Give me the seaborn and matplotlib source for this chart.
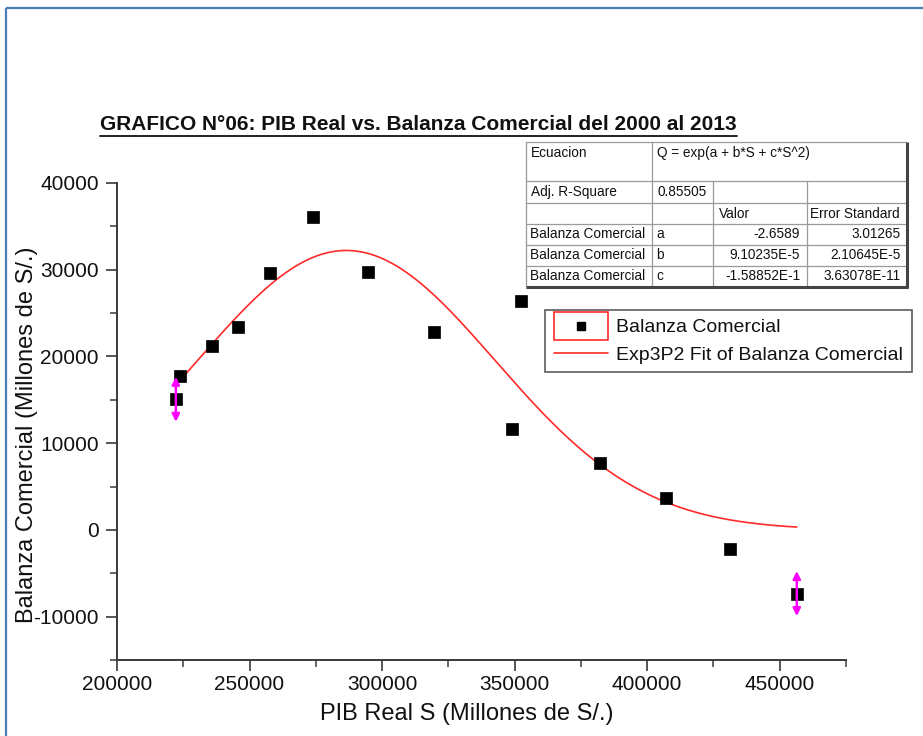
import numpy as np
import pandas as pd
import matplotlib
matplotlib.use("Agg")
import matplotlib.pyplot as plt
import seaborn as sns
from matplotlib.ticker import MultipleLocator, FuncFormatter
from matplotlib.legend_handler import HandlerBase
from matplotlib.patches import Rectangle
from matplotlib.lines import Line2D

# ---- data -------------------------------------------------------------
anios = list(range(2000, 2014))
pib_real = [222207, 223580, 235773, 245593, 257770, 273971, 294598,
            319693, 348923, 352584, 382380, 407052, 431273, 456435]
balanza = [15060, 17710, 21210, 23410, 29570, 36110, 29690,
           22830, 11670, 26410, 7700, 3630, -2150, -7340]

# Exp3P2 fit: Q = exp(a + b*S + c*S^2)
param_nombres = ["a", "b", "c"]
param_valor = [-2.6589, 9.10235e-5, -1.58852e-10]
param_valor_txt = ["-2.6589", "9.10235E-5", "-1.58852E-1"]
param_error_txt = ["3.01265", "2.10645E-5", "3.63078E-11"]
adj_r2_txt = "0.85505"
ecuacion_txt = "Q = exp(a + b*S + c*S^2)"

# years flagged with a vertical double arrow
anios_marcados = [2000, 2013]

titulo = "GRAFICO N\u00b006: PIB Real vs. Balanza Comercial del 2000 al 2013"
etiqueta_x = "PIB Real S (Millones de S/.)"
etiqueta_y = "Balanza Comercial (Millones de S/.)"
serie = "Balanza Comercial"
serie_ajuste = "Exp3P2 Fit of Balanza Comercial"

# ---- style ------------------------------------------------------------
sns.set_style("ticks")
plt.rcParams["font.family"] = ["Liberation Sans", "DejaVu Sans"]
plt.rcParams["text.color"] = "#111111"

W, H = 923, 736
fig = plt.figure(figsize=(W / 100, H / 100), dpi=100)
fig.patch.set_facecolor("white")

# main axes placed in pixel units
L, R, T, B = 117, 846, 183, 660
ax = fig.add_axes([L / W, 1 - B / H, (R - L) / W, (B - T) / H])

df = pd.DataFrame({"anio": anios, "pib": pib_real, "balanza": balanza})

# fitted curve from the tabulated parameters
a, b, c = param_valor
s_grid = np.linspace(min(pib_real), max(pib_real), 300)
q_fit = np.exp(a + b * s_grid + c * s_grid ** 2)
sns.lineplot(x=s_grid, y=q_fit, color="#ff2a2a", lw=1.2, ax=ax, zorder=2)

sns.scatterplot(data=df, x="pib", y="balanza", marker="s", s=70,
                color="black", edgecolor="black", linewidth=0.5,
                ax=ax, zorder=3, legend=False)

# vertical double arrows on flagged points
for yr in anios_marcados:
    row = df[df["anio"] == yr].iloc[0]
    ax.annotate("", xy=(row["pib"], row["balanza"] + 2600),
                xytext=(row["pib"], row["balanza"] - 2600),
                arrowprops=dict(arrowstyle="<|-|>", color="#ff00ff",
                                lw=1.8, mutation_scale=11,
                                shrinkA=0, shrinkB=0),
                zorder=4)

ax.set_xlim(200000, 475000)
ax.set_ylim(-15000, 40000)
ax.xaxis.set_major_locator(MultipleLocator(50000))
ax.xaxis.set_minor_locator(MultipleLocator(25000))
ax.yaxis.set_major_locator(MultipleLocator(10000))
ax.yaxis.set_minor_locator(MultipleLocator(5000))
fmt = FuncFormatter(lambda v, _: f"{v:.0f}")
ax.xaxis.set_major_formatter(fmt)
ax.yaxis.set_major_formatter(fmt)

for side in ("top", "right"):
    ax.spines[side].set_visible(False)
for side in ("left", "bottom"):
    ax.spines[side].set_color("#3a3a3a")
    ax.spines[side].set_linewidth(1.4)

ax.tick_params(which="major", direction="out", length=8, width=1.2,
               color="#3a3a3a", labelsize=15, labelcolor="#111111")
ax.tick_params(axis="x", which="major", pad=3)
ax.tick_params(axis="y", which="major", pad=5)
ax.tick_params(which="minor", direction="out", length=5, width=1.1,
               color="#3a3a3a")

ax.set_xlabel(etiqueta_x, fontsize=17, color="#111111")
ax.set_ylabel(etiqueta_y, fontsize=17, color="#111111")
ax.xaxis.set_label_coords((466.5 - L) / (R - L), (B - 703) / (B - T))
ax.yaxis.set_label_coords((38 - L) / (R - L), (B - 434.5) / (B - T))


# ---- legend -----------------------------------------------------------
class BoxedMarker(HandlerBase):
    def create_artists(self, legend, orig_handle, xdescent, ydescent,
                       width, height, fontsize, trans):
        cy = height / 2 - ydescent
        box = Rectangle((-xdescent, cy - 0.72 * fontsize), width,
                        1.44 * fontsize, facecolor="none",
                        edgecolor="#ff2a2a", lw=1.2, transform=trans)
        mk = Line2D([width / 2 - xdescent], [cy], marker="s", ms=6,
                    color="black", ls="none", transform=trans)
        return [box, mk]


h_pts = Line2D([], [], marker="s", color="black", ls="none")
h_fit = Line2D([], [], color="#ff2a2a", lw=1.2)
leg = ax.legend([h_pts, h_fit], [serie, serie_ajuste],
                handler_map={h_pts: BoxedMarker()},
                loc="upper left", bbox_to_anchor=(545 / W, 1 - 310 / H),
                bbox_transform=fig.transFigure, borderaxespad=0,
                fontsize=14, frameon=True, fancybox=False,
                handlelength=2.8, handletextpad=0.4, labelspacing=0.5,
                borderpad=0.45)
leg.get_frame().set_edgecolor("#333333")
leg.get_frame().set_linewidth(1.2)
for t in leg.get_texts():
    t.set_color("#111111")

# ---- overlay in pixel units: page border, title, parameter table -----
ov = fig.add_axes([0, 0, 1, 1], zorder=5)
ov.set_xlim(0, W)
ov.set_ylim(H, 0)
ov.axis("off")
ov.patch.set_alpha(0)

azul = "#4a7ebb"
ov.plot([6, 6], [8, H], color=azul, lw=1.6, solid_capstyle="butt")
ov.plot([6, W], [8, 8], color=azul, lw=1.6, solid_capstyle="butt")

tt = fig.text(100 / W, 1 - 130 / H, titulo, fontsize=15, fontweight="bold",
              va="baseline", ha="left", color="#111111")
fig.canvas.draw()
bb = tt.get_window_extent(fig.canvas.get_renderer())
uy = H - bb.y0 + 1.5
ov.plot([bb.x0, bb.x1], [uy, uy], color="#111111", lw=1.3)

# table geometry
cols = [526, 652, 713, 807, 906]
rows = [142, 181, 203, 224, 245, 265.5, 286]
gris = "#9a9a9a"
ov.add_patch(Rectangle((cols[0], rows[0]), cols[-1] - cols[0],
                       rows[-1] - rows[0], facecolor="white",
                       edgecolor="none", zorder=1))
# horizontal rules
for y in rows[:-1]:
    ov.plot([cols[0], cols[-1]], [y, y], color=gris, lw=0.9, zorder=2)
# vertical rules
ov.plot([cols[0], cols[0]], [rows[0], rows[-1]], color=gris, lw=0.9, zorder=2)
ov.plot([cols[1], cols[1]], [rows[0], rows[-1]], color=gris, lw=0.9, zorder=2)
for x in cols[2:4]:
    ov.plot([x, x], [rows[1], rows[-1]], color=gris, lw=0.9, zorder=2)
# darker right/bottom edges
ov.plot([cols[-1] + 1, cols[-1] + 1], [rows[0], rows[-1] + 2],
        color="#444444", lw=2.2, zorder=2, solid_capstyle="butt")
ov.plot([cols[0], cols[-1] + 2], [rows[-1] + 1, rows[-1] + 1],
        color="#444444", lw=2.2, zorder=2, solid_capstyle="butt")

fs_t = 9.8
tc = "#111111"
ov.text(cols[0] + 5, 153, "Ecuacion", fontsize=fs_t, va="center", color=tc)
ov.text(cols[1] + 5, 153, ecuacion_txt, fontsize=fs_t, va="center", color=tc)
ov.text(cols[0] + 5, 192, "Adj. R-Square", fontsize=fs_t, va="center", color=tc)
ov.text(cols[1] + 5, 192, adj_r2_txt, fontsize=fs_t, va="center", color=tc)
ov.text(cols[2] + 6, 214, "Valor", fontsize=fs_t, va="center", color=tc)
ov.text(cols[3] + 3, 214, "Error Standard", fontsize=fs_t, va="center",
        color=tc)
for i, nombre in enumerate(param_nombres):
    yc = (rows[3 + i] + rows[4 + i]) / 2
    ov.text(cols[0] + 4, yc, serie, fontsize=fs_t, va="center", color=tc)
    ov.text(cols[1] + 4, yc, nombre, fontsize=fs_t, va="center", color=tc)
    ov.text(cols[3] - 7, yc, param_valor_txt[i], fontsize=fs_t, va="center",
            ha="right", color=tc)
    ov.text(cols[4] - 5, yc, param_error_txt[i], fontsize=fs_t, va="center",
            ha="right", color=tc)

fig.savefig("out.png", dpi=100, facecolor="white")
